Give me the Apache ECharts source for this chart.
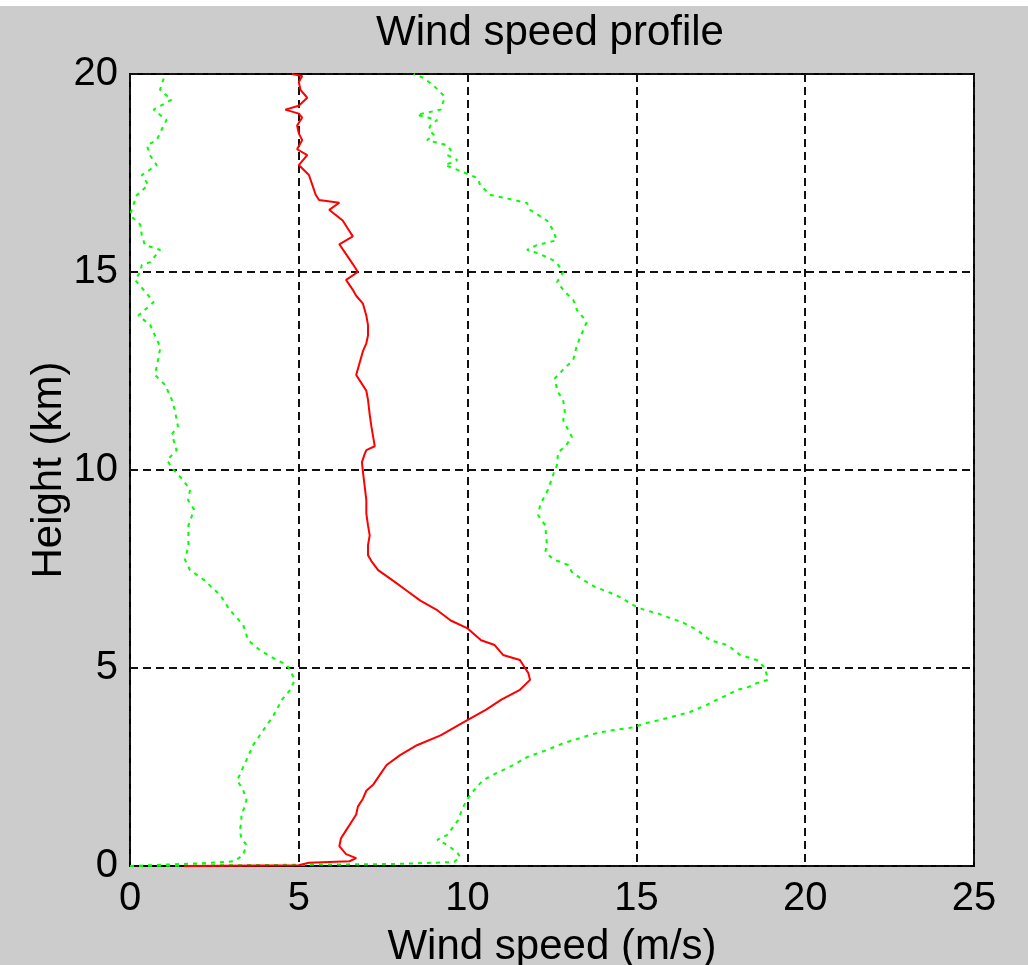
<!DOCTYPE html>
<html>
<head>
<meta charset="utf-8">
<script src="https://cdn.jsdelivr.net/npm/echarts@6/dist/echarts.min.js"></script>
<style>
  html, body { margin: 0; padding: 0; background: #ffffff; overflow: hidden; }
  #chart { position: absolute; left: 0; top: 0; width: 1028px; height: 965px; }
</style>
</head>
<body>
<div id="chart"></div>
<script>
// Mean wind speed profile (m/s) against height (km)
const meanHeight = [0, 0.02, 0.08, 0.12, 0.2, 0.3, 0.5, 0.7, 0.9, 1.1, 1.3, 1.5, 1.7, 1.9, 2.05, 2.3, 2.55, 2.8, 3.05, 3.3, 3.64, 3.95, 4.2, 4.45, 4.7, 4.87, 5.0, 5.2, 5.33, 5.58, 5.7, 6.0, 6.2, 6.46, 6.7, 6.95, 7.2, 7.47, 7.7, 7.85, 8.1, 8.35, 8.6, 8.9, 9.24, 9.6, 9.95, 10.2, 10.4, 10.5, 10.6, 10.85, 11.1, 11.4, 11.77, 12.0, 12.2, 12.4, 12.7, 13.0, 13.2, 13.4, 13.66, 13.9, 14.2, 14.4, 14.55, 14.8, 15.0, 15.2, 15.45, 15.7, 15.9, 16.1, 16.3, 16.57, 16.75, 16.82, 16.95, 17.2, 17.45, 17.7, 17.95, 18.1, 18.33, 18.5, 18.7, 18.9, 19.0, 19.1, 19.2, 19.4, 19.6, 19.8, 19.95, 20.0];
const meanSpeed = [1.6, 5.0, 5.3, 6.5, 6.7, 6.4, 6.2, 6.25, 6.4, 6.55, 6.7, 6.75, 6.9, 7.0, 7.2, 7.4, 7.6, 8.0, 8.5, 9.2, 9.9, 10.55, 11.0, 11.55, 11.85, 11.8, 11.7, 11.55, 11.05, 10.8, 10.4, 10.0, 9.5, 9.1, 8.6, 8.2, 7.8, 7.35, 7.15, 7.05, 7.05, 7.1, 7.05, 7.0, 7.0, 6.95, 6.9, 6.87, 6.95, 7.0, 7.25, 7.2, 7.15, 7.1, 7.05, 7.0, 6.85, 6.7, 6.8, 6.9, 7.0, 7.05, 7.05, 7.0, 6.9, 6.7, 6.6, 6.4, 6.75, 6.6, 6.4, 6.2, 6.6, 6.45, 6.3, 5.9, 6.2, 5.6, 5.5, 5.4, 5.3, 5.0, 5.25, 4.95, 5.1, 5.0, 4.95, 5.1, 5.0, 4.6, 5.0, 5.25, 5.05, 5.0, 5.1, 4.8];

// Lower bound of the wind speed spread
const lowerHeight = [0, 0.08, 0.12, 0.28, 0.53, 0.7, 0.9, 1.1, 1.29, 1.5, 1.67, 1.92, 2.17, 2.3, 2.68, 3.06, 3.43, 3.8, 4.2, 4.44, 4.7, 4.95, 5.08, 5.25, 5.45, 5.7, 6.09, 6.46, 6.84, 7.22, 7.47, 7.73, 8.1, 8.6, 9.0, 9.24, 9.5, 9.75, 10.05, 10.25, 10.5, 10.9, 11.1, 11.5, 11.77, 12.15, 12.4, 12.78, 13.1, 13.28, 13.66, 13.9, 14.24, 14.5, 14.8, 15.0, 15.18, 15.25, 15.56, 15.68, 15.93, 16.2, 16.44, 16.57, 16.94, 17.2, 17.45, 17.7, 17.95, 18.2, 18.33, 18.6, 18.84, 19.1, 19.35, 19.6, 20.0];
const lowerSpeed = [0, 2.4, 3.1, 3.35, 3.45, 3.3, 3.25, 3.3, 3.3, 3.4, 3.45, 3.35, 3.17, 3.25, 3.45, 3.65, 3.95, 4.25, 4.5, 4.74, 4.88, 4.74, 4.64, 4.25, 3.85, 3.5, 3.35, 2.96, 2.67, 2.2, 1.78, 1.63, 1.73, 1.73, 1.9, 1.72, 1.78, 1.57, 1.24, 1.1, 1.38, 1.24, 1.42, 1.33, 1.24, 1.04, 0.74, 0.83, 0.9, 0.8, 0.6, 0.25, 0.7, 0.45, 0.15, 0.3, 0.35, 0.6, 0.89, 0.44, 0.35, 0.3, 0.0, 0.05, 0.2, 0.54, 0.35, 0.79, 0.59, 0.5, 0.79, 0.94, 1.08, 0.7, 1.23, 0.89, 1.04];

// Upper bound of the wind speed spread
const upperHeight = [0, 0.05, 0.1, 0.23, 0.35, 0.53, 0.66, 0.78, 1.16, 1.41, 1.67, 1.92, 2.17, 2.3, 2.55, 2.75, 2.93, 3.1, 3.23, 3.36, 3.43, 3.5, 3.61, 3.69, 3.8, 3.89, 4.07, 4.2, 4.32, 4.45, 4.5, 4.62, 4.7, 4.82, 5.0, 5.2, 5.33, 5.58, 5.7, 5.96, 6.16, 6.26, 6.39, 6.46, 6.6, 6.77, 6.9, 7.05, 7.22, 7.42, 7.6, 7.75, 7.93, 8.1, 8.6, 8.86, 9.12, 9.5, 9.87, 10.13, 10.45, 10.58, 10.83, 11.26, 11.46, 11.77, 12.0, 12.32, 12.58, 12.78, 13.16, 13.54, 13.74, 14.04, 14.3, 14.5, 14.75, 15.0, 15.18, 15.3, 15.45, 15.56, 15.68, 15.8, 16.06, 16.3, 16.57, 16.74, 16.82, 16.95, 17.2, 17.37, 17.45, 17.58, 17.7, 17.83, 17.95, 18.08, 18.2, 18.33, 18.46, 18.6, 18.7, 18.84, 18.97, 19.1, 19.35, 19.45, 19.7, 19.9, 20.0];
const upperSpeed = [0, 7.8, 9.6, 9.78, 9.68, 9.4, 9.1, 9.39, 9.72, 9.83, 9.97, 10.2, 10.46, 10.75, 11.36, 11.76, 12.35, 12.83, 13.33, 13.83, 14.3, 14.9, 15.3, 15.7, 16.2, 16.59, 17.09, 17.39, 17.7, 17.98, 18.27, 18.57, 18.9, 18.86, 18.81, 18.57, 18.07, 17.7, 17.18, 16.8, 16.35, 16.0, 15.6, 15.25, 14.87, 14.57, 14.22, 13.77, 13.43, 13.09, 12.98, 12.53, 12.3, 12.35, 12.3, 12.09, 12.15, 12.38, 12.53, 12.65, 12.68, 12.88, 13.09, 12.83, 12.88, 12.83, 12.65, 12.59, 12.88, 13.13, 13.24, 13.43, 13.53, 13.24, 13.13, 12.88, 12.65, 12.83, 12.68, 12.53, 12.15, 11.76, 12.05, 12.64, 12.53, 12.35, 11.85, 11.76, 11.36, 10.66, 10.37, 10.3, 10.07, 9.7, 9.33, 9.7, 9.4, 9.5, 9.4, 8.8, 9.0, 8.85, 8.9, 9.1, 8.5, 9.2, 9.3, 9.3, 9.0, 8.7, 8.4];

const speedTicks = [0, 5, 10, 15, 20, 25];
const heightTicks = [0, 5, 10, 15, 20];

const pairs = (speeds, heights) => speeds.map((s, i) => [s, heights[i]]);

const FONT = 'Liberation Sans, Arial, Helvetica, sans-serif';
const gridLine = { color: '#111111', width: 2, type: [8, 5] };

const chart = echarts.init(document.getElementById('chart'), null, { renderer: 'canvas' });
chart.setOption({
  animation: false,
  backgroundColor: '#cccccc',
  graphic: [
    // thin white band along the top edge of the figure window
    { type: 'rect', left: 0, top: 0, shape: { width: 1028, height: 6 }, style: { fill: '#ffffff' }, silent: true }
  ],
  title: {
    text: 'Wind speed profile',
    left: 545,
    top: 7,
    textAlign: 'center',
    textStyle: { fontFamily: FONT, fontSize: 42, fontWeight: 'normal', color: '#000' }
  },
  grid: {
    left: 130, top: 74, right: 54, bottom: 99,
    outerBoundsMode: 'none',
    show: true, backgroundColor: '#ffffff', borderColor: '#000000', borderWidth: 2
  },
  xAxis: {
    type: 'value',
    min: speedTicks[0], max: speedTicks[speedTicks.length - 1], interval: 5,
    name: 'Wind speed (m/s)',
    nameLocation: 'middle', nameGap: 60, nameMoveOverlap: false,
    nameTextStyle: { fontFamily: FONT, fontSize: 42, color: '#000' },
    axisLine: { show: false },
    axisTick: { show: false },
    axisLabel: { fontFamily: FONT, fontSize: 40, color: '#000', margin: 13 },
    splitLine: { show: true, lineStyle: gridLine }
  },
  yAxis: {
    type: 'value',
    min: heightTicks[0], max: heightTicks[heightTicks.length - 1], interval: 5,
    name: 'Height (km)',
    nameLocation: 'middle', nameGap: 60, nameMoveOverlap: false,
    nameTextStyle: { fontFamily: FONT, fontSize: 42, color: '#000' },
    axisLine: { show: false },
    axisTick: { show: false },
    axisLabel: { fontFamily: FONT, fontSize: 40, color: '#000', margin: 12 },
    splitLine: { show: true, lineStyle: gridLine }
  },
  series: [
    {
      name: 'lower', type: 'line', data: pairs(lowerSpeed, lowerHeight),
      showSymbol: false, symbol: 'none', silent: true, clip: true,
      lineStyle: { color: '#00ff00', width: 2, type: [4, 5] }, z: 3
    },
    {
      name: 'upper', type: 'line', data: pairs(upperSpeed, upperHeight),
      showSymbol: false, symbol: 'none', silent: true, clip: true,
      lineStyle: { color: '#00ff00', width: 2, type: [4, 5] }, z: 3
    },
    {
      name: 'mean', type: 'line', data: pairs(meanSpeed, meanHeight),
      showSymbol: false, symbol: 'none', silent: true, clip: true,
      lineStyle: { color: '#ff0000', width: 2 }, z: 4
    }
  ]
});
</script>
</body>
</html>
